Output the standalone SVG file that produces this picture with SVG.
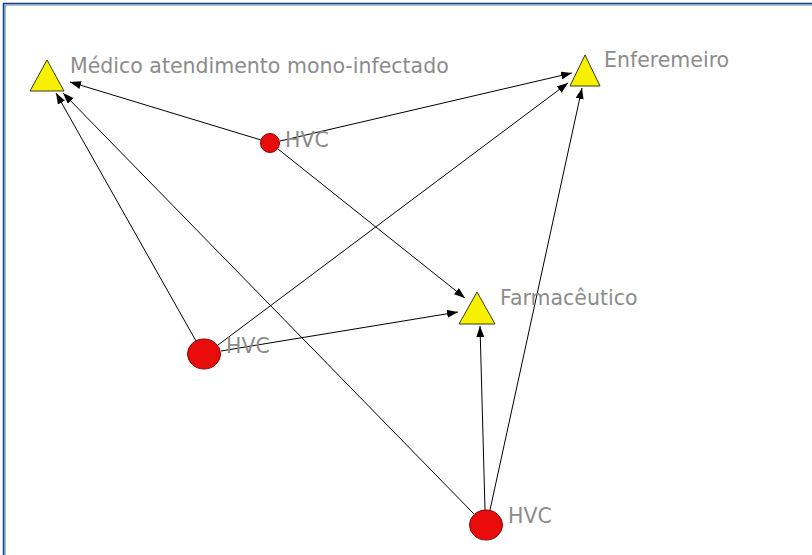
<svg xmlns="http://www.w3.org/2000/svg" width="812" height="555" viewBox="0 0 812 555">
  <style>
    .tri { fill: #f7f000; stroke: #3a3a1a; stroke-width: 1; }
    .dot { fill: #e80c0c; stroke: #8a0000; stroke-width: 1; }
    .lbl { font-family: "DejaVu Sans", Verdana, sans-serif; font-size: 20.5px; fill: #8c8c8c; }
    .edge { stroke: #000; stroke-width: 1; fill: none; marker-end: url(#arrow); }
  </style>
  <defs>
    <marker id="arrow" markerUnits="userSpaceOnUse" markerWidth="11" markerHeight="8" refX="11" refY="4" orient="auto">
      <path d="M0,0 L11,4 L0,8 z" fill="#000"/>
    </marker>
  </defs>

  <rect width="812" height="555" fill="#fff"/>
  <!-- window frame -->
  <path d="M3.5,555 V3.5 H812" fill="none" stroke="#1d3a74" stroke-width="1.5"/>
  <path d="M5,555 V5 H812" fill="none" stroke="#4f8ad6" stroke-width="1.2"/>

  <g id="connectors">
    <line class="edge" x1="261" y1="140" x2="70" y2="82"/>
    <line class="edge" x1="280" y1="141" x2="572" y2="73"/>
    <line class="edge" x1="278" y1="149" x2="465" y2="298"/>
    <line class="edge" x1="196" y1="341" x2="56" y2="93"/>
    <line class="edge" x1="218" y1="345" x2="568" y2="83"/>
    <line class="edge" x1="221" y1="351" x2="458" y2="312"/>
    <line class="edge" x1="474" y1="514" x2="63" y2="93"/>
    <line class="edge" x1="485" y1="510" x2="480" y2="326"/>
    <line class="edge" x1="490" y1="510" x2="582" y2="88"/>
  </g>

  <g id="medico">
    <polygon class="tri" points="47,60 30,91 64,91"/>
    <text class="lbl" x="70" y="73">Médico atendimento mono-infectado</text>
  </g>
  <g id="enfermeiro">
    <polygon class="tri" points="585,55 570,86 600,86"/>
    <text class="lbl" x="604" y="67">Enferemeiro</text>
  </g>
  <g id="farmaceutico">
    <polygon class="tri" points="477,292 459,324 495,324"/>
    <text class="lbl" x="500" y="305">Farmacêutico</text>
  </g>
  <g id="hvc-1">
    <circle class="dot" cx="270" cy="143" r="9.5"/>
    <text class="lbl" x="285" y="147">HVC</text>
  </g>
  <g id="hvc-2">
    <ellipse class="dot" cx="204" cy="354" rx="16.5" ry="15"/>
    <text class="lbl" x="226" y="353">HVC</text>
  </g>
  <g id="hvc-3">
    <ellipse class="dot" cx="486" cy="525" rx="16.5" ry="15"/>
    <text class="lbl" x="508" y="523">HVC</text>
  </g>
</svg>
